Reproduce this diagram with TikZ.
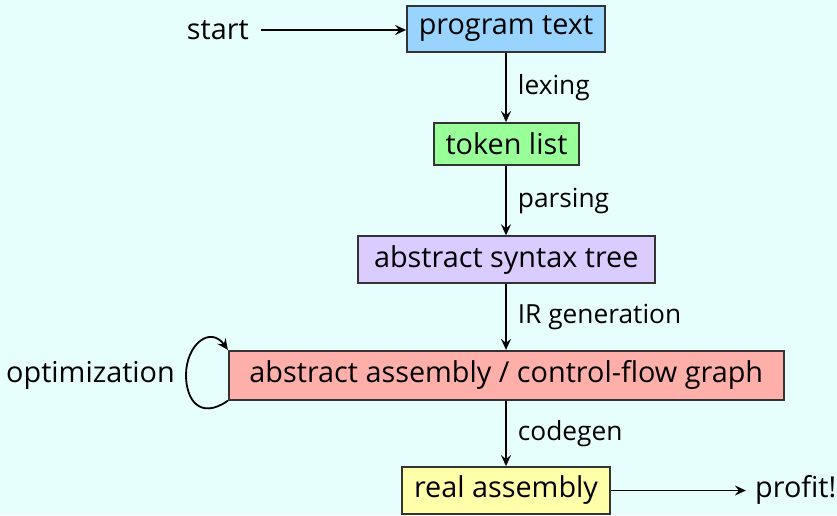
\documentclass[tikz,border=0pt]{standalone}
\usepackage{fontspec}
\setmainfont{Open Sans}
\usetikzlibrary{arrows.meta}
\definecolor{bgc}{RGB}{230,255,253}
\definecolor{cblue}{RGB}{153,212,255}
\definecolor{cgreen}{RGB}{153,255,153}
\definecolor{cpurple}{RGB}{218,204,255}
\definecolor{cred}{RGB}{255,175,170}
\definecolor{cyellow}{RGB}{255,255,170}
\begin{document}
\begin{tikzpicture}[x=1pt,y=-1pt,
  box/.style={draw=black!80,line width=1.8pt,inner sep=0pt,font=\fontsize{28.8}{34}\selectfont},
  lbl/.style={font=\fontsize{26.3}{30}\selectfont,anchor=west,inner sep=0pt},
  plain/.style={font=\fontsize{28.8}{34}\selectfont,inner sep=0pt},
  conn/.style={-{Stealth[length=11pt,width=10pt,inset=4pt]},line width=1.8pt}]
\fill[bgc] (0,0) rectangle (837,515);
\useasboundingbox (0,0) rectangle (837,515);
\node[box,fill=cblue,minimum width=198pt,minimum height=46pt] (pt) at (506,28.7) {program text};
\node[box,fill=cgreen,minimum width=145pt,minimum height=42pt] (tl) at (506.5,144) {token list};
\node[box,fill=cpurple,minimum width=297pt,minimum height=47pt] (ast) at (506.3,259.7) {abstract syntax tree};
\node[box,fill=cred,minimum width=555pt,minimum height=49pt] (aa) at (506.3,375.3) {abstract assembly / control-flow graph};
\node[box,fill=cyellow,minimum width=208pt,minimum height=47pt] (ra) at (506,490.5) {real assembly};
\node[plain,anchor=east] (start) at (249,30) {start};
\node[plain,anchor=east] (opt) at (175,375) {optimization};
\node[plain,anchor=west] (profit) at (755,490) {profit!};
\draw[conn] (start.east) ++(12,0) coordinate (s0) -- (s0 -| pt.west);
\draw[conn] (pt.south -| 506,0) -- (tl.north -| 506,0) node[lbl,midway,right=11pt] (l1) {lexing};
\draw[conn] (tl.south -| 506,0) -- (ast.north -| 506,0) node[lbl,midway,right=11pt] (l2) {parsing};
\draw[conn] (ast.south -| 506,0) -- (aa.north -| 506,0) node[lbl,midway,right=11pt] (l3) {IR generation};
\draw[conn] (aa.south -| 506,0) -- (ra.north -| 506,0) node[lbl,midway,right=11pt] (l4) {codegen};
\draw[conn] (ra.east) -- ++(135,0) coordinate (pend);
\draw[conn] (aa.south west) .. controls (200,420) and (186,400) .. (186,375) .. controls (186,345) and (210,325) .. (aa.north west);
\end{tikzpicture}
\end{document}
